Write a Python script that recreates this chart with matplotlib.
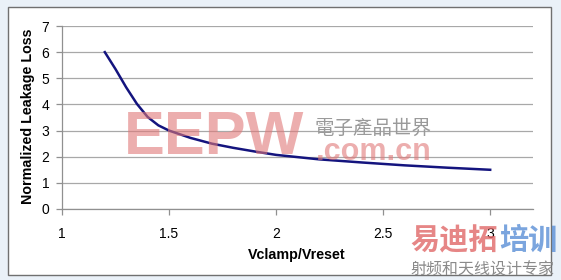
import matplotlib
matplotlib.use('Agg')
import matplotlib.pyplot as plt
from matplotlib.patches import Rectangle

# Normalized leakage loss vs clamp/reset voltage ratio
vratio = [1.2, 1.25, 1.3, 1.35, 1.4, 1.45, 1.5, 1.6, 1.7, 1.8, 1.9, 2.0, 2.2, 2.4, 2.6, 2.8, 3.0]
leak_loss = [6.0, 5.35, 4.65, 4.02, 3.52, 3.2, 3.0, 2.72, 2.5, 2.34, 2.2, 2.07, 1.9, 1.78, 1.67, 1.58, 1.5]

x_ticks = [1, 1.5, 2, 2.5, 3]
x_ticklabels = ['1', '1.5', '2', '2.5', '3']
y_ticks = [0, 1, 2, 3, 4, 5, 6, 7]

W, H = 561, 280
plt.rcParams['font.family'] = ['Liberation Sans', 'DejaVu Sans']

fig = plt.figure(figsize=(W / 100, H / 100), dpi=100)
fig.patch.set_facecolor('#eaf1f8')

# chart frame (Excel style)
fig.patches.append(Rectangle((8 / W, (H - 275) / H), (551 - 8) / W, (275 - 7) / H,
                             transform=fig.transFigure, facecolor='white',
                             edgecolor='#707070', linewidth=1.0, zorder=-5))

ax = fig.add_axes([62 / W, (H - 209) / H, (533 - 62) / W, (209 - 26) / H])
ax.set_zorder(1)
ax.set_facecolor('white')
ax.plot(vratio, leak_loss, color='#14147e', linewidth=1.8, zorder=3,
        solid_joinstyle='round')

ax.set_xlim(1, 3.2)
ax.set_ylim(0, 7)
ax.set_xticks(x_ticks)
ax.set_xticklabels(x_ticklabels)
ax.set_yticks(y_ticks)
ax.yaxis.grid(True, color='#a8a8a8', linewidth=0.9)
ax.set_axisbelow(True)

for side in ['top', 'right']:
    ax.spines[side].set_visible(False)
for side in ['left', 'bottom']:
    ax.spines[side].set_color('#909090')
    ax.spines[side].set_linewidth(0.9)

ax.tick_params(axis='y', length=4, width=0.9, color='#909090', pad=5, labelsize=10)
ax.tick_params(axis='x', length=4, width=0.9, color='#909090', pad=9, labelsize=10)

fig.text(28 / W, 1 - 116 / H, 'Normalized Leakage Loss', rotation=90, fontsize=10.3,
         fontweight='bold', ha='center', va='center')
fig.text(297 / W, 1 - 255 / H, 'Vclamp/Vreset', fontsize=10.3, fontweight='bold',
         ha='center', va='center')

# site watermarks
fig.text(214 / W, 1 - 138 / H, 'EEPW', fontsize=44, fontweight='bold', color='#e07878',
         alpha=0.6, ha='center', va='center', zorder=10)
fig.text(373 / W, 1 - 128 / H, '電子產品世界', fontsize=14, color='#9a9a9a',
         family=['Noto Sans CJK TC', 'DejaVu Sans'], ha='center', va='center', zorder=10)
fig.text(374 / W, 1 - 152 / H, '.com.cn', fontsize=22, fontweight='bold', color='#e07878',
         alpha=0.6, ha='center', va='center', zorder=10)
fig.text(410 / W, 1 - 240 / H, '易迪拓', fontsize=21, fontweight='bold', color='#e06868',
         alpha=0.8, family=['Noto Sans CJK SC', 'DejaVu Sans'], ha='left', va='center', zorder=10)
fig.text(557 / W, 1 - 240 / H, '培训', fontsize=21, fontweight='bold', color='#5a8fd6',
         alpha=0.8, family=['Noto Sans CJK SC', 'DejaVu Sans'], ha='right', va='center', zorder=10)
fig.text(482 / W, 1 - 270 / H, '射频和天线设计专家', fontsize=11.5, color='#8a8a8a',
         family=['Noto Sans CJK SC', 'DejaVu Sans'], ha='center', va='center', zorder=10)

fig.savefig('out.png', dpi=100, facecolor=fig.get_facecolor())
